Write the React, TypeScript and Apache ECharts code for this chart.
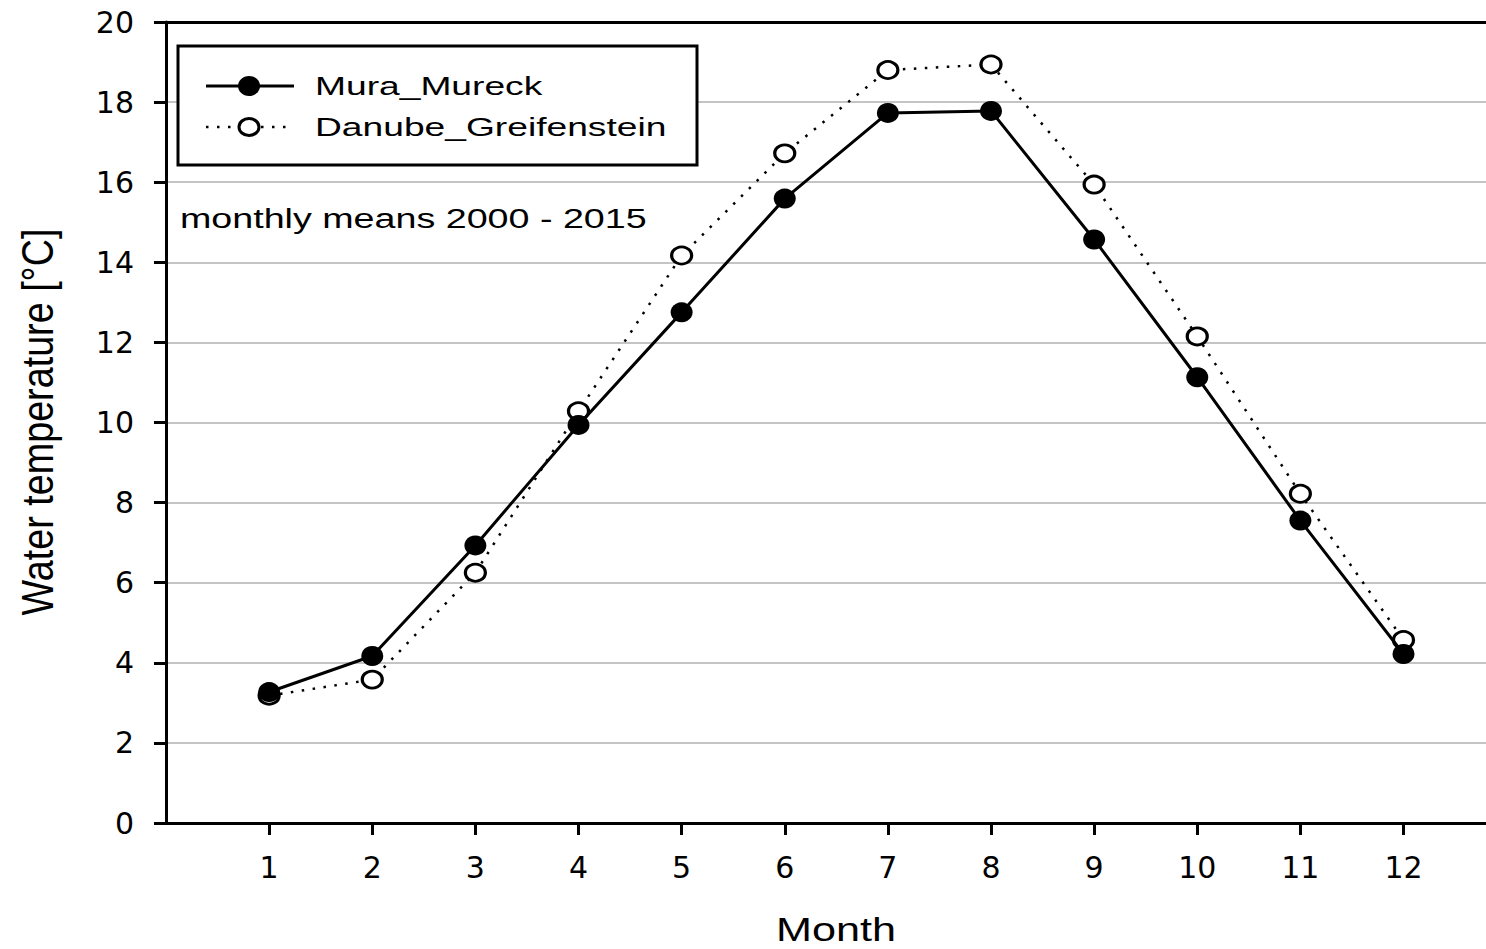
import React, { useEffect, useRef } from "react";
import * as echarts from "echarts";

const months = [1, 2, 3, 4, 5, 6, 7, 8, 9, 10, 11, 12];
const muraMureck = [3.27, 4.17, 6.93, 9.94, 12.75, 15.59, 17.73, 17.78, 14.57, 11.13, 7.55, 4.22];
const danubeGreifenstein = [3.18, 3.58, 6.25, 10.28, 14.17, 16.72, 18.8, 18.94, 15.94, 12.15, 8.22, 4.57];
const seriesNames = ["Mura_Mureck", "Danube_Greifenstein"];
const yTitle = "Water temperature [°C]";
const xTitle = "Month";
const note = "monthly means 2000 - 2015";

const TXT = '"Liberation Sans", Arial, sans-serif';
const NUM = '"DejaVu Sans", sans-serif';

export default function App() {
  const ref = useRef<HTMLDivElement>(null);
  useEffect(() => {
    if (!ref.current) return;
    const chart = echarts.init(ref.current, null, { renderer: "svg" });
    const mura = months.map((m, i) => [m, muraMureck[i]]);
    const danube = months.map((m, i) => [m, danubeGreifenstein[i]]);
    chart.setOption({
      animation: false,
      backgroundColor: "#fff",
      grid: { left: 166, top: 22, right: 0, bottom: 126, containLabel: false },
      xAxis: [
        {
          type: "value",
          min: 0,
          max: 12.8,
          interval: 1,
          axisLine: { show: true, onZero: false, lineStyle: { color: "#000", width: 3 } },
          axisTick: { show: true, customValues: months, inside: false, length: 12, lineStyle: { color: "#000", width: 3 } },
          axisLabel: { show: true, customValues: months, margin: 29, fontFamily: NUM, fontSize: 30, color: "#000" },
          splitLine: { show: false },
        },
        {
          type: "value",
          position: "top",
          min: 0,
          max: 12.8,
          interval: 1,
          axisLine: { show: true, onZero: false, lineStyle: { color: "#000", width: 3 } },
          axisTick: { show: false },
          axisLabel: { show: false },
          splitLine: { show: false },
        },
      ],
      yAxis: {
        type: "value",
        min: 0,
        max: 20,
        interval: 2,
        axisLine: { show: true, onZero: false, lineStyle: { color: "#000", width: 3 } },
        axisTick: { show: true, inside: false, length: 12, lineStyle: { color: "#000", width: 3 } },
        axisLabel: { margin: 32, fontFamily: NUM, fontSize: 30, color: "#000" },
        splitLine: { show: true, lineStyle: { color: "#c4c4c4", width: 2 } },
      },
      series: [
        {
          name: seriesNames[1],
          type: "line",
          data: danube,
          z: 2,
          symbol: "circle",
          symbolSize: [20, 17],
          lineStyle: { color: "#000", width: 2.5, type: [2.5, 8.5] },
          itemStyle: { color: "#fff", borderColor: "#000", borderWidth: 3 },
        },
        {
          name: seriesNames[0],
          type: "line",
          data: mura,
          z: 3,
          symbol: "circle",
          symbolSize: [22, 20],
          lineStyle: { color: "#000", width: 3 },
          itemStyle: { color: "#000", borderWidth: 0 },
        },
      ],
      graphic: [
        {
          type: "rect",
          z: 100,
          shape: { x: 178, y: 46, width: 519, height: 119 },
          style: { fill: "#fff", stroke: "#000", lineWidth: 3 },
        },
        {
          type: "line",
          z: 101,
          shape: { x1: 206, y1: 86, x2: 294, y2: 86 },
          style: { stroke: "#000", lineWidth: 3 },
        },
        {
          type: "ellipse",
          z: 102,
          shape: { cx: 249, cy: 86, rx: 11, ry: 10 },
          style: { fill: "#000" },
        },
        {
          type: "line",
          z: 101,
          shape: { x1: 206, y1: 127, x2: 294, y2: 127 },
          style: { stroke: "#000", lineWidth: 2.5, lineDash: [2.5, 8.5] },
        },
        {
          type: "ellipse",
          z: 102,
          shape: { cx: 249, cy: 127, rx: 10, ry: 8.5 },
          style: { fill: "#fff", stroke: "#000", lineWidth: 3 },
        },
        {
          type: "text",
          z: 102,
          x: 315,
          y: 86.5,
          scaleX: 1.43,
          style: { text: seriesNames[0], fontFamily: TXT, fontSize: 26, fill: "#000", align: "left", verticalAlign: "middle" },
        },
        {
          type: "text",
          z: 102,
          x: 315,
          y: 127.5,
          scaleX: 1.43,
          style: { text: seriesNames[1], fontFamily: TXT, fontSize: 26, fill: "#000", align: "left", verticalAlign: "middle" },
        },
        {
          type: "text",
          z: 102,
          x: 180,
          y: 219,
          scaleX: 1.395,
          style: { text: note, fontFamily: TXT, fontSize: 27, fill: "#000", align: "left", verticalAlign: "middle" },
        },
        {
          type: "text",
          z: 102,
          x: 38,
          y: 422,
          rotation: Math.PI / 2,
          scaleX: 1.11,
          scaleY: 1.3,
          style: { text: yTitle, fontFamily: TXT, fontSize: 34, fill: "#000", align: "center", verticalAlign: "middle" },
        },
        {
          type: "text",
          z: 102,
          x: 836,
          y: 929,
          scaleX: 1.27,
          style: { text: xTitle, fontFamily: TXT, fontSize: 34, fill: "#000", align: "center", verticalAlign: "middle" },
        },
      ],
    });
    return () => chart.dispose();
  }, []);
  return (
    <div
      ref={ref}
      style={{ position: "absolute", left: 0, top: 0, width: 1486, height: 949, background: "#fff" }}
    />
  );
}
